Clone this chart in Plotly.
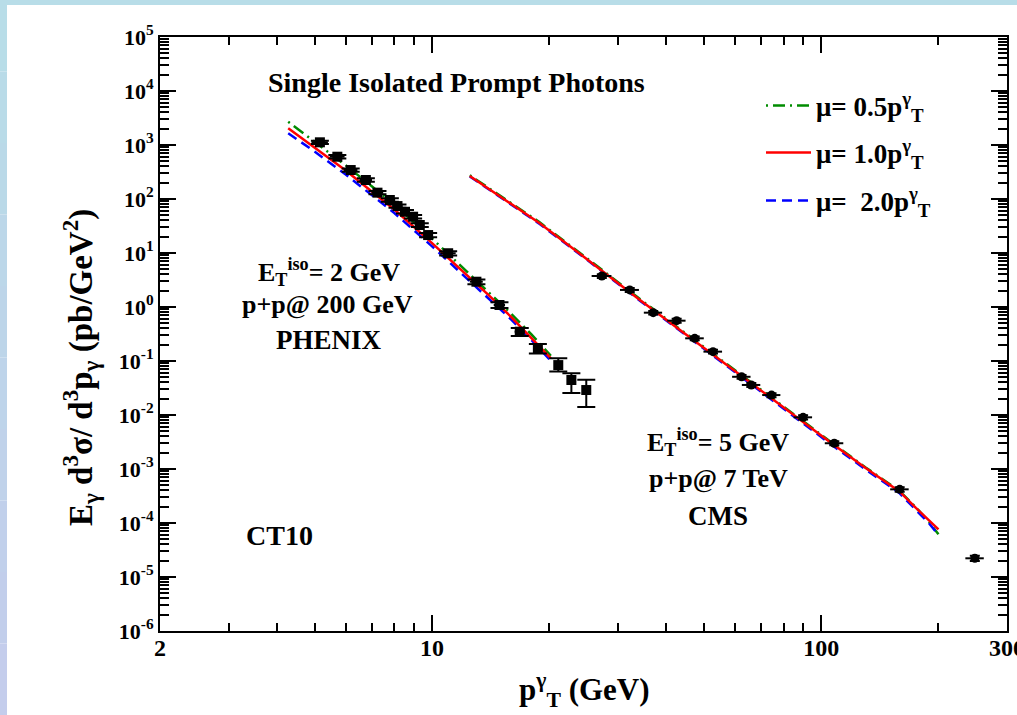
import plotly.graph_objects as go

# ---------------- data ----------------
# PHENIX p+p @ 200 GeV isolated prompt photons
phenix_pt = [5.15, 5.71, 6.18, 6.76, 7.24, 7.79, 8.15, 8.52, 8.94, 9.30, 9.77,
             11.0, 13.0, 14.9, 16.8, 18.7, 21.1, 22.8, 24.9]
phenix_xsec = [1122, 607, 344, 225, 131, 95.8, 74, 58, 47, 33, 21.5,
               9.9, 2.94, 1.09, 0.349, 0.172, 0.084, 0.0445, 0.029]
phenix_err_up = [80, 45, 25, 16, 9, 7, 5.5, 4.3, 3.6, 2.7, 1.9,
                 0.9, 0.3, 0.13, 0.06, 0.035, 0.028, 0.015, 0.016]
phenix_err_dn = [80, 45, 25, 16, 9, 7, 5.5, 4.3, 3.6, 2.7, 1.9,
                 0.9, 0.3, 0.13, 0.06, 0.035, 0.020, 0.019, 0.015]
phenix_pt_err = [0.25, 0.25, 0.25, 0.25, 0.25, 0.25, 0.25, 0.25, 0.25, 0.25, 0.25,
                 0.5, 0.5, 0.5, 0.5, 0.5, 0.0, 0.0, 0.0]

# CMS p+p @ 7 TeV isolated prompt photons
cms_pt = [27.3, 32.2, 37.0, 42.5, 47.3, 52.7, 62.4, 66.1, 74.5, 89.8, 108, 159, 248]
cms_xsec = [3.75, 2.07, 0.785, 0.558, 0.263, 0.149, 0.051, 0.036, 0.0234,
            0.00906, 0.0030, 4.2e-4, 2.22e-5]
cms_err = [0.3, 0.17, 0.06, 0.045, 0.02, 0.012, 0.004, 0.003, 0.002,
           0.0008, 0.00025, 4e-5, 2.5e-6]
cms_pt_err = [1.6, 1.8, 2.0, 2.3, 2.6, 2.9, 3.4, 3.6, 4.0, 4.9, 5.9, 8.7, 13.5]

# CT10 NLO predictions for three scale choices
phenix_curve_pt = [4.27, 5, 6, 7, 8, 10, 12, 14, 16, 18, 20.2]
phenix_mu05 = [2700, 1150, 420, 172, 79, 18.5, 5.3, 1.9, 0.74, 0.31, 0.125]
phenix_mu10 = [2040, 895, 337, 138, 64, 15.2, 4.56, 1.64, 0.644, 0.27, 0.112]
phenix_mu20 = [1650, 750, 285, 118, 55, 13.3, 4.0, 1.46, 0.58, 0.245, 0.100]

cms_curve_pt = [12.5, 15, 18.9, 25, 34.2, 45, 60, 80, 105, 130, 159, 175, 190, 200]
cms_mu05 = [275, 114, 37, 8.0, 1.40, 0.318, 0.067, 0.0142, 0.0033, 0.00107,
            3.9e-4, 1.95e-4, 1.0e-4, 6.2e-5]
cms_mu10 = [267, 110, 35.5, 7.7, 1.35, 0.307, 0.065, 0.0137, 0.0032, 0.00104,
            3.8e-4, 1.9e-4, 1.06e-4, 7.6e-5]
cms_mu20 = [262, 107, 34.5, 7.5, 1.31, 0.296, 0.062, 0.0131, 0.0030, 0.00098,
            3.55e-4, 1.75e-4, 0.95e-4, 6.0e-5]

x_tick_vals = [2, 10, 100, 300]
x_tick_text = ["2", "10", "100", "300"]
y_exponents = [-6, -5, -4, -3, -2, -1, 0, 1, 2, 3, 4, 5]

# ---------------- layout helpers ----------------
W, H = 1017, 715
L, R, T, B = 160, 10, 37, 84
PW = W - L - R
PH = H - T - B


def px(xp):
    return (xp - L) / PW


def py(yp):
    return (H - B - yp) / PH


FONT = "Liberation Serif, Times New Roman, Times, serif"
GREEN = "rgb(0,140,0)"
RED = "rgb(255,0,0)"
BLUE = "rgb(0,0,255)"

fig = go.Figure()

curve_specs = [
    (phenix_mu05, cms_mu05, GREEN, "2px,5px,12px,5px", "legend",
     "<b>μ= 0.5p<sup>γ</sup><sub>T</sub></b>"),
    (phenix_mu20, cms_mu20, BLUE, "10px,6px", "legend3",
     "<b>μ=  2.0p<sup>γ</sup><sub>T</sub></b>"),
    (phenix_mu10, cms_mu10, RED, "solid", "legend2",
     "<b>μ= 1.0p<sup>γ</sup><sub>T</sub></b>"),
]
for ph, cm, col, dash, leg, name in curve_specs:
    fig.add_trace(go.Scatter(x=phenix_curve_pt, y=ph, mode="lines",
                             line=dict(color=col, width=2.5, dash=dash),
                             name=name, legend=leg, legendgroup=name,
                             showlegend=True))
    fig.add_trace(go.Scatter(x=cms_curve_pt, y=cm, mode="lines",
                             line=dict(color=col, width=2.5, dash=dash),
                             name=name, legend=leg, legendgroup=name,
                             showlegend=False))

fig.add_trace(go.Scatter(
    x=phenix_pt, y=phenix_xsec, mode="markers",
    marker=dict(symbol="square", size=10, color="black"),
    error_y=dict(type="data", array=phenix_err_up, arrayminus=phenix_err_dn,
                 color="black", thickness=2, width=9),
    error_x=dict(type="data", array=phenix_pt_err, color="black",
                 thickness=2, width=0),
    showlegend=False))

fig.add_trace(go.Scatter(
    x=cms_pt, y=cms_xsec, mode="markers",
    marker=dict(symbol="circle", size=9, color="black"),
    error_y=dict(type="data", array=cms_err, color="black", thickness=2, width=5),
    error_x=dict(type="data", array=cms_pt_err, color="black",
                 thickness=2, width=0),
    showlegend=False))

# ---------------- axes ----------------
x_minor = [3, 4, 5, 6, 7, 8, 9, 20, 30, 40, 50, 60, 70, 80, 90, 200]
y_minor = [m * 10 ** e for e in y_exponents[:-1] for m in range(2, 10)]

axis_common = dict(showline=True, linecolor="black", linewidth=2,
                   mirror="ticks", ticks="inside", tickcolor="black",
                   tickwidth=1.5, showgrid=False, zeroline=False,
                   ticklabeloverflow="allow", automargin=False)

fig.update_xaxes(type="log", range=[0.30102, 2.47713],
                 tickmode="array", tickvals=x_tick_vals, ticktext=x_tick_text,
                 ticklen=16, ticklabelstandoff=-6,
                 tickfont=dict(family=FONT, size=24, color="black", weight="bold"),
                 minor=dict(tickmode="array", tickvals=x_minor, ticks="inside",
                            ticklen=8, tickcolor="black", tickwidth=1.5,
                            showgrid=False),
                 **axis_common)
fig.update_yaxes(type="log", range=[-6, 5],
                 tickmode="array", tickvals=[10.0 ** e for e in y_exponents],
                 ticktext=["10<sup>%d</sup>" % e for e in y_exponents],
                 ticklen=16,
                 tickfont=dict(family=FONT, size=22, color="black", weight="bold"),
                 minor=dict(tickmode="array", tickvals=y_minor, ticks="inside",
                            ticklen=9, tickcolor="black", tickwidth=1.5,
                            showgrid=False),
                 **axis_common)

# ---------------- legends ----------------
leg_font = dict(family=FONT, size=27, color="black")
leg_common = dict(xanchor="left", yanchor="middle", bgcolor="rgba(0,0,0,0)",
                  borderwidth=0, font=leg_font, itemwidth=45,
                  xref="paper", yref="paper")
fig.update_layout(
    legend=dict(x=px(761), y=py(106), **leg_common),
    legend2=dict(x=px(761), y=py(153), **leg_common),
    legend3=dict(x=px(761), y=py(201), **leg_common),
)

# ---------------- text ----------------
def note(text, x, y, size=28, angle=0):
    fig.add_annotation(text=text, x=px(x), y=py(y), xref="paper", yref="paper",
                       showarrow=False, xanchor="center", yanchor="middle",
                       textangle=angle,
                       font=dict(family=FONT, size=size, color="black",
                                 weight="bold"))


note("Single Isolated Prompt Photons", 456, 82, size=28)
note("E<sub>T</sub><sup>iso</sup>= 2 GeV", 329, 272, size=26)
note("p+p@ 200 GeV", 327, 305, size=26)
note("PHENIX", 329, 340, size=27)
note("E<sub>T</sub><sup>iso</sup>= 5 GeV", 718, 442, size=26)
note("p+p@ 7 TeV", 718, 478, size=26)
note("CMS", 718, 516, size=27)
note("CT10", 279, 535, size=28)
note("p<sup>γ</sup><sub>T</sub> (GeV)", 584, 690, size=31)
note("E<sub>γ</sub>&nbsp;d<sup>3</sup>σ/&nbsp;d<sup>3</sup>p<sub>γ</sub>&nbsp;(pb/GeV<sup>2</sup>)",
     80, 368, size=33, angle=-90)

# ---------------- light-blue frame ----------------
shapes = [dict(type="rect", xref="paper", yref="paper", layer="below",
               x0=px(0), x1=px(W), y0=py(5), y1=py(0),
               fillcolor="rgb(184,221,232)", line=dict(width=0))]
steps = 10
for i in range(steps):
    f = i / (steps - 1)
    col = "rgb(%d,%d,%d)" % (184 + 12 * f, 221 - 16 * f, 232 + 4 * f)
    shapes.append(dict(type="rect", xref="paper", yref="paper", layer="below",
                       x0=px(0), x1=px(7),
                       y0=py(H * (i + 1) / steps), y1=py(H * i / steps),
                       fillcolor=col, line=dict(width=0)))

fig.update_layout(
    width=W, height=H,
    margin=dict(l=L, r=R, t=T, b=B, pad=0, autoexpand=False),
    paper_bgcolor="white", plot_bgcolor="white",
    shapes=shapes,
)

fig.write_html("out.html")
